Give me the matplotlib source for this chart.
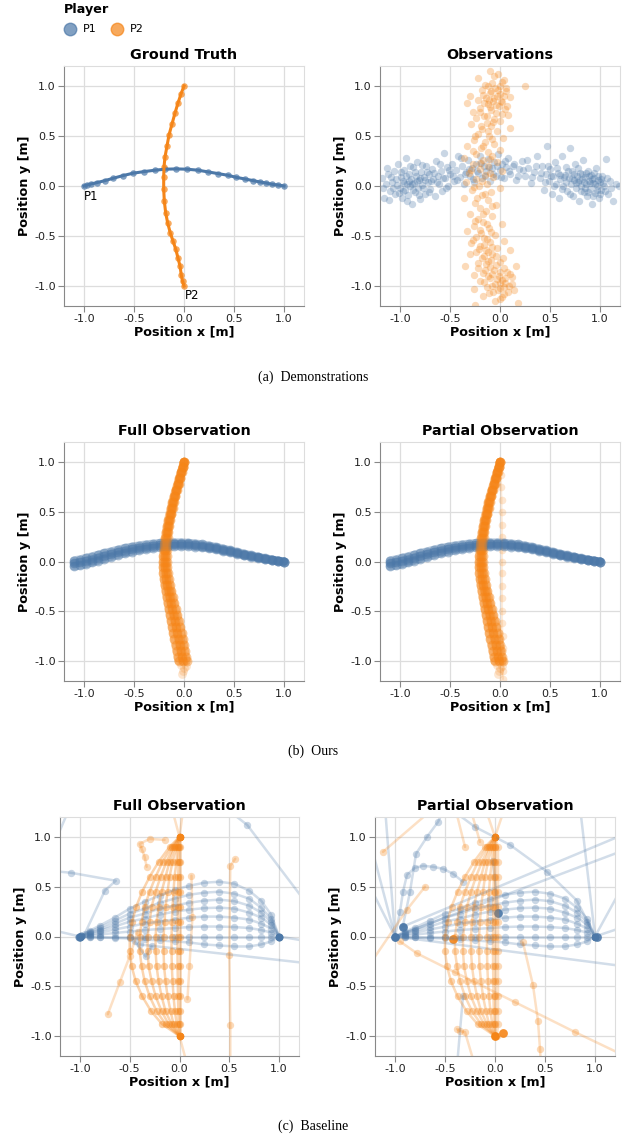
import matplotlib
matplotlib.use("Agg")
import matplotlib.pyplot as plt
from matplotlib.lines import Line2D

plt.rcParams['font.family'] = 'DejaVu Sans'
plt.rcParams['axes.unicode_minus'] = False

C1 = '#4c78a8'
C2 = '#f58518'

# ---- (a) ground truth ----
gt_p1_x = [-1.0, -0.97, -0.93, -0.87, -0.79, -0.71, -0.61, -0.51, -0.4, -0.29, -0.19, -0.08, 0.03,
           0.14, 0.24, 0.34, 0.44, 0.52, 0.61, 0.69, 0.76, 0.82, 0.88, 0.94, 1.0]
gt_p1_y = [0.0, 0.01, 0.02, 0.034, 0.054, 0.077, 0.104, 0.128, 0.144, 0.158, 0.168, 0.171, 0.168,
           0.158, 0.141, 0.124, 0.107, 0.087, 0.07, 0.054, 0.04, 0.03, 0.017, 0.01, 0.0]
gt_p2_x = [0.0, -0.03, -0.06, -0.09, -0.12, -0.15, -0.17, -0.19, -0.2, -0.203, -0.203, -0.197,
           -0.183, -0.163, -0.137, -0.11, -0.083, -0.06, -0.04, -0.027, -0.015, 0.0]
gt_p2_y = [1.0, 0.92, 0.83, 0.73, 0.62, 0.51, 0.4, 0.29, 0.19, 0.09, -0.03, -0.15,
           -0.27, -0.37, -0.47, -0.55, -0.63, -0.72, -0.8, -0.89, -0.95, -1.0]

# ---- (a) noisy observations (x, y) ----
obs_p1 = [(-1.18,0.08),(-1.16,-0.12),(-1.14,0.02),(-1.12,0.12),(-1.1,-0.05),(-1.08,0.04),(-1.06,0.15),
          (-1.05,-0.08),(-1.03,0.01),(-1.02,0.22),(-1.0,-0.02),(-0.99,0.09),(-0.98,-0.12),(-0.97,0.05),
          (-0.96,0.16),(-0.95,-0.04),(-0.94,0.28),(-0.93,0.02),(-0.92,-0.09),(-0.91,0.12),(-0.9,0.0),
          (-0.89,0.07),(-0.88,-0.18),(-0.87,0.19),(-0.86,0.03),(-0.85,-0.06),(-0.84,0.1),(-0.83,0.24),
          (-0.82,-0.02),(-0.81,0.06),(-0.8,-0.13),(-0.79,0.14),(-0.78,0.01),(-0.76,0.09),(-0.75,-0.08),
          (-0.74,0.2),(-0.72,0.04),(-0.71,0.12),(-0.7,-0.03),(-0.68,0.17),(-0.67,0.07),(-0.65,-0.1),
          (-0.64,0.25),(-0.62,0.1),(-0.61,0.02),(-0.59,0.15),(-0.58,-0.05),(-0.56,0.33),(-0.55,0.08),
          (-0.53,0.19),(-0.52,0.0),(-0.5,0.12),(-0.48,0.22),(-0.46,0.05),(-0.44,0.16),(-0.42,0.3),
          (-0.4,0.09),(-0.38,0.2),(-0.36,0.02),(-0.34,0.14),(-0.32,0.26),(-0.3,0.1),(-0.28,0.18),
          (-0.26,0.04),(-0.24,0.22),(-0.22,0.13),(-0.2,0.3),(-0.18,0.08),(-0.16,0.2),(-0.14,0.15),
          (-0.12,0.27),(-0.1,0.05),(-0.08,0.18),(-0.06,0.24),(-0.04,0.1),(-0.02,0.32),(0.0,0.16),
          (0.02,0.22),(0.04,0.08),(0.06,0.19),(0.08,0.28),(0.1,0.12),(0.13,0.2),(0.16,0.06),(0.19,0.17),
          (0.22,0.25),(0.25,0.1),(0.28,0.18),(0.31,0.03),(0.34,0.14),(0.37,0.3),(0.4,0.08),(0.42,0.2),
          (0.44,-0.04),(0.46,0.12),(0.47,0.4),(0.49,0.05),(0.5,0.17),(0.52,-0.08),(0.53,0.1),(0.55,0.24),
          (0.56,0.02),(0.58,0.13),(0.59,-0.12),(0.6,0.07),(0.62,0.3),(0.63,0.0),(0.65,0.11),(0.66,0.19),
          (0.67,-0.05),(0.69,0.08),(0.7,0.38),(0.71,0.02),(0.72,0.15),(0.73,-0.1),(0.74,0.06),(0.75,0.22),
          (0.76,-0.02),(0.77,0.1),(0.78,0.04),(0.79,-0.15),(0.8,0.13),(0.81,0.0),(0.82,0.07),(0.83,0.26),
          (0.84,-0.06),(0.85,0.09),(0.86,0.02),(0.87,-0.1),(0.88,0.15),(0.89,0.05),(0.9,-0.03),(0.91,0.11),
          (0.92,-0.18),(0.93,0.03),(0.94,0.08),(0.95,-0.07),(0.96,0.18),(0.97,0.0),(0.98,0.06),(0.99,-0.12),
          (1.0,0.04),(1.01,-0.04),(1.02,0.1),(1.04,0.0),(1.06,0.27),(1.08,-0.08),(1.1,0.05),(1.13,-0.15),
          (1.16,0.02),(1.19,0.0),
          (-1.17,-0.02),(-1.13,0.18),(-1.11,-0.14),(-1.09,0.09),(-1.07,-0.02),(-1.04,0.07),(-1.01,-0.07),
          (-0.99,0.14),(-0.97,-0.05),(-0.96,0.03),(-0.94,0.1),(-0.93,-0.15),(-0.91,0.05),(-0.9,0.2),
          (-0.88,0.02),(-0.87,-0.04),(-0.85,0.14),(-0.83,0.05),(-0.81,-0.09),(-0.8,0.08),(-0.78,0.21),
          (-0.77,-0.02),(-0.75,0.06),(-0.73,0.14),(-0.71,-0.06),(-0.69,0.05),(-0.66,0.13),(-0.63,0.04),
          (-0.6,0.22),(-0.57,0.08),(-0.54,-0.02),(-0.51,0.16),(-0.47,0.1),(-0.43,0.06),(-0.39,0.28),
          (-0.35,0.12),(-0.31,0.17),(-0.27,0.07),(-0.23,0.15),(-0.19,0.23),(-0.15,0.1),(-0.11,0.19),
          (-0.07,0.12),(-0.03,0.2),(0.01,0.09),(0.05,0.25),(0.09,0.15),(0.14,0.22),(0.18,0.1),(0.23,0.16),
          (0.27,0.26),(0.32,0.09),(0.36,0.2),(0.41,0.13),(0.45,0.04),(0.48,0.2),(0.51,0.1),(0.54,0.0),
          (0.57,0.18),(0.6,0.11),(0.62,-0.03),(0.64,0.09),(0.66,0.04),(0.68,0.15),(0.7,-0.08),(0.72,0.08),
          (0.74,0.12),(0.76,0.03),(0.78,0.18),(0.79,0.06),(0.81,-0.05),(0.82,0.12),(0.84,0.04),(0.85,-0.02),
          (0.86,0.13),(0.88,-0.06),(0.89,0.1),(0.9,0.03),(0.92,0.07),(0.93,-0.1),(0.94,0.13),(0.95,0.02),
          (0.97,-0.04),(0.98,0.1),(1.0,-0.08),(1.01,0.07),(1.03,0.03),(1.05,-0.05),(1.07,0.08),(1.11,-0.02)]
obs_p2 = [(-0.1,1.15),(-0.02,1.12),(-0.22,1.08),(0.04,1.06),(-0.08,1.03),(-0.15,1.01),(0.0,1.0),(0.25,1.0),
          (-0.05,0.98),(-0.18,0.96),(0.06,0.95),(-0.1,0.93),(-0.3,0.9),(-0.03,0.9),(0.1,0.89),(-0.14,0.88),
          (-0.22,0.86),(-0.07,0.85),(0.02,0.84),(-0.33,0.83),(-0.12,0.82),(-0.01,0.8),(-0.2,0.78),(0.05,0.77),
          (-0.09,0.76),(-0.27,0.74),(-0.04,0.73),(0.08,0.71),(-0.16,0.7),(-0.24,0.68),(-0.06,0.67),(0.0,0.65),
          (-0.13,0.63),(-0.29,0.62),(-0.09,0.6),(0.1,0.58),(-0.18,0.57),(-0.03,0.55),(-0.22,0.52),(-0.11,0.5),
          (0.03,0.48),(-0.26,0.46),(-0.15,0.44),(-0.06,0.42),(-0.33,0.4),(-0.19,0.38),(0.0,0.36),(-0.12,0.34),
          (-0.24,0.32),(-0.08,0.3),(-0.36,0.28),(-0.17,0.26),(-0.03,0.24),(-0.27,0.22),(-0.12,0.2),(-0.2,0.17),
          (0.02,0.15),(-0.31,0.13),(-0.15,0.11),(-0.07,0.09),(-0.24,0.07),(-0.34,0.04),(-0.13,0.02),(-0.21,0.0),
          (0.0,-0.02),(-0.28,-0.04),(-0.09,-0.06),(-0.18,-0.09),(-0.36,-0.12),(-0.12,-0.14),(-0.25,-0.17),
          (-0.04,-0.19),(-0.2,-0.22),(-0.14,-0.25),(-0.3,-0.28),(-0.08,-0.3),(-0.22,-0.33),(-0.17,-0.36),
          (0.02,-0.38),(-0.26,-0.4),(-0.11,-0.42),(-0.33,-0.45),(-0.19,-0.47),(-0.05,-0.49),(-0.24,-0.51),
          (-0.13,-0.53),(0.04,-0.55),(-0.29,-0.57),(-0.16,-0.59),(-0.08,-0.61),(-0.21,-0.63),(0.1,-0.64),
          (-0.12,-0.66),(-0.3,-0.68),(-0.04,-0.7),(-0.18,-0.72),(-0.09,-0.74),(-0.35,-0.8),(0.0,-0.76),
          (-0.14,-0.78),(0.16,-0.8),(-0.22,-0.82),(-0.06,-0.84),(0.07,-0.86),(-0.17,-0.87),(-0.26,-0.89),
          (-0.01,-0.9),(0.12,-0.91),(-0.1,-0.92),(0.02,-0.94),(-0.2,-0.95),(0.05,-0.97),(-0.05,-0.98),
          (0.09,-1.0),(-0.13,-1.01),(0.0,-1.02),(-0.26,-1.03),(0.14,-1.04),(-0.07,-1.06),(0.04,-1.08),
          (-0.17,-1.1),(0.0,-1.13),(0.18,-1.17),(-0.25,-1.19),
          (-0.06,1.1),(0.02,1.04),(-0.12,1.0),(0.06,0.98),(-0.02,0.96),(-0.09,0.95),(0.0,0.92),(-0.17,0.91),
          (0.04,0.9),(-0.06,0.88),(-0.11,0.86),(0.01,0.85),(-0.16,0.83),(-0.04,0.81),(0.07,0.8),(-0.1,0.79),
          (-0.2,0.74),(0.02,0.72),(-0.13,0.7),(-0.07,0.64),(-0.19,0.6),(-0.12,0.55),(-0.25,0.5),(-0.08,0.47),
          (-0.17,0.4),(-0.27,0.35),(-0.1,0.27),(-0.2,0.23),(-0.29,0.16),(-0.1,0.13),(-0.18,0.05),(-0.26,-0.01),
          (-0.15,-0.08),(-0.23,-0.12),(-0.08,-0.2),(-0.17,-0.28),(-0.25,-0.35),(-0.13,-0.38),(-0.2,-0.44),
          (-0.09,-0.46),(-0.16,-0.52),(-0.27,-0.54),(-0.1,-0.56),(-0.2,-0.6),(-0.03,-0.62),(-0.14,-0.64),
          (-0.24,-0.66),(-0.08,-0.68),(-0.16,-0.7),(0.03,-0.72),(-0.12,-0.75),(-0.22,-0.77),(-0.04,-0.79),
          (-0.1,-0.81),(0.04,-0.82),(-0.15,-0.84),(0.0,-0.86),(-0.08,-0.88),(0.1,-0.88),(-0.12,-0.9),
          (0.05,-0.92),(-0.03,-0.93),(-0.16,-0.96),(0.0,-0.97),(0.12,-0.98),(-0.08,-1.0),(0.04,-1.01),
          (-0.02,-1.04),(0.08,-1.06),(-0.11,-1.07),(0.02,-1.11),(-0.05,-1.15)]

# ---- (b) ours: predicted trajectory samples ----
ours_p1_x = [-1.1, -1.04, -0.98, -0.92, -0.86, -0.8, -0.73, -0.66, -0.59, -0.52, -0.45, -0.38, -0.31, -0.24,
             -0.17, -0.1, -0.03, 0.04, 0.11, 0.18, 0.25, 0.32, 0.39, 0.46, 0.53, 0.6, 0.67, 0.74, 0.81,
             0.88, 0.94, 1.0]
ours_p1_y_hi = [0.01, 0.02, 0.035, 0.05, 0.066, 0.083, 0.1, 0.118, 0.134, 0.148, 0.16, 0.17, 0.178, 0.184,
                0.188, 0.19, 0.19, 0.187, 0.18, 0.171, 0.159, 0.145, 0.129, 0.112, 0.095, 0.078, 0.062,
                0.047, 0.032, 0.019, 0.008, 0.0]
ours_p1_y_mid = [-0.02, -0.01, 0.005, 0.02, 0.037, 0.055, 0.073, 0.092, 0.109, 0.124, 0.137, 0.148, 0.157,
                 0.164, 0.169, 0.172, 0.173, 0.171, 0.165, 0.157, 0.146, 0.133, 0.118, 0.102, 0.086, 0.07,
                 0.055, 0.041, 0.028, 0.016, 0.007, 0.0]
ours_p1_y_lo = [-0.05, -0.04, -0.025, -0.01, 0.008, 0.027, 0.046, 0.066, 0.084, 0.1, 0.114, 0.126, 0.136,
                0.144, 0.15, 0.154, 0.156, 0.155, 0.15, 0.143, 0.133, 0.121, 0.107, 0.092, 0.077, 0.062,
                0.048, 0.035, 0.024, 0.013, 0.005, 0.0]
ours_p2_y = [1.0, 0.95, 0.9, 0.84, 0.78, 0.72, 0.66, 0.6, 0.54, 0.48, 0.42, 0.36, 0.3, 0.24, 0.18, 0.12, 0.06,
             0.0, -0.06, -0.12, -0.18, -0.24, -0.3, -0.36, -0.42, -0.48, -0.54, -0.6, -0.66, -0.72, -0.78,
             -0.84, -0.9, -0.96, -1.0]
ours_p2_x_left = [0.0, -0.014, -0.029, -0.047, -0.065, -0.083, -0.1, -0.116, -0.13, -0.144, -0.157, -0.169,
                  -0.18, -0.189, -0.197, -0.203, -0.207, -0.21, -0.21, -0.206, -0.2, -0.192, -0.183, -0.173,
                  -0.162, -0.151, -0.14, -0.129, -0.118, -0.107, -0.096, -0.085, -0.074, -0.062, -0.055]
ours_p2_x_mid = [0.0, -0.012, -0.026, -0.043, -0.06, -0.077, -0.093, -0.108, -0.122, -0.135, -0.147, -0.158,
                 -0.168, -0.176, -0.183, -0.188, -0.191, -0.192, -0.19, -0.184, -0.176, -0.166, -0.155,
                 -0.143, -0.13, -0.117, -0.104, -0.091, -0.078, -0.066, -0.054, -0.042, -0.03, -0.018, -0.01]
ours_p2_x_right = [0.0, -0.01, -0.023, -0.039, -0.055, -0.071, -0.086, -0.1, -0.114, -0.126, -0.137, -0.147,
                   -0.156, -0.163, -0.169, -0.173, -0.175, -0.174, -0.17, -0.162, -0.152, -0.14, -0.127,
                   -0.113, -0.098, -0.083, -0.068, -0.053, -0.038, -0.025, -0.013, -0.002, 0.008, 0.018, 0.025]
ours_p2_tail_x = [-0.03, 0.0, -0.01, 0.02, -0.02]
ours_p2_tail_y = [-1.04, -1.07, -1.1, -1.05, -1.13]
part_p2_line_x = [0.0, 0.01, 0.01, 0.015, 0.015, 0.02, 0.02, 0.02, 0.02, 0.02, 0.02, 0.02, 0.02, 0.02,
                  0.025, 0.025, 0.03, 0.03, 0.03]
part_p2_line_y = [1.0, 0.87, 0.75, 0.62, 0.5, 0.37, 0.25, 0.12, 0.0, -0.12, -0.25, -0.37, -0.5, -0.62,
                  -0.75, -0.87, -1.0, -1.1, -1.18]

# ---- (c) baseline samples ----
base_p1_x = [-1.0, -0.9, -0.8, -0.65, -0.5, -0.35, -0.2, -0.05, 0.1, 0.25, 0.4, 0.55, 0.7, 0.82, 0.92, 1.0]
base_p1_arcs = {
    'a55': [0, 0.06, 0.11, 0.19, 0.28, 0.35, 0.41, 0.47, 0.51, 0.54, 0.55, 0.53, 0.46, 0.36, 0.22, 0],
    'a45': [0, 0.05, 0.09, 0.16, 0.23, 0.28, 0.34, 0.38, 0.42, 0.44, 0.45, 0.43, 0.38, 0.29, 0.18, 0],
    'a37': [0, 0.04, 0.07, 0.13, 0.19, 0.23, 0.28, 0.31, 0.34, 0.36, 0.37, 0.355, 0.31, 0.24, 0.15, 0],
    'a29': [0, 0.03, 0.06, 0.1, 0.15, 0.18, 0.22, 0.25, 0.27, 0.285, 0.29, 0.28, 0.24, 0.19, 0.12, 0],
    'a20': [0, 0.02, 0.04, 0.07, 0.1, 0.13, 0.15, 0.17, 0.19, 0.2, 0.2, 0.19, 0.17, 0.13, 0.08, 0],
    'a10': [0, 0.01, 0.02, 0.035, 0.05, 0.065, 0.075, 0.085, 0.095, 0.1, 0.1, 0.095, 0.085, 0.065, 0.04, 0],
    'a00': [0, 0, 0, 0, 0, 0, 0, 0, 0, 0, 0, 0, 0, 0, 0, 0],
    'dip': [0, -0.005, -0.01, -0.015, -0.02, -0.03, -0.04, -0.05, -0.06, -0.08, -0.09, -0.1, -0.1, -0.08, -0.05, 0],
}
base_p2_y = [1.0, 0.9, 0.75, 0.6, 0.45, 0.3, 0.15, 0.0, -0.15, -0.3, -0.45, -0.6, -0.75, -0.88, -1.0]
base_p2_arcs = {
    'b50': [0, -0.1, -0.21, -0.3, -0.375, -0.435, -0.475, -0.5, -0.5, -0.48, -0.44, -0.375, -0.285, -0.175, 0],
    'b40': [0, -0.08, -0.17, -0.24, -0.3, -0.35, -0.38, -0.4, -0.4, -0.38, -0.35, -0.3, -0.23, -0.14, 0],
    'b32': [0, -0.06, -0.13, -0.19, -0.24, -0.28, -0.3, -0.32, -0.32, -0.31, -0.28, -0.24, -0.18, -0.11, 0],
    'b24': [0, -0.05, -0.1, -0.14, -0.18, -0.21, -0.23, -0.24, -0.24, -0.23, -0.21, -0.18, -0.14, -0.08, 0],
    'b16': [0, -0.03, -0.07, -0.1, -0.12, -0.14, -0.15, -0.16, -0.16, -0.155, -0.14, -0.12, -0.09, -0.06, 0],
    'b08': [0, -0.02, -0.03, -0.05, -0.06, -0.07, -0.076, -0.08, -0.08, -0.077, -0.07, -0.06, -0.046, -0.028, 0],
    'b02': [0, -0.005, -0.01, -0.012, -0.015, -0.017, -0.018, -0.02, -0.02, -0.019, -0.017, -0.015, -0.012, -0.008, 0],
    'b00': [0, 0, 0, 0, 0, 0, 0, 0, 0, 0, 0, 0, 0, 0, 0],
}
full_p1_strays = [([-1.3, -1.09, -0.64, -0.75, -0.95], [0.66, 0.64, 0.56, 0.46, 0.03]),
                  ([-1.25, -1.1], [0.95, 1.3]),
                  ([0.45, 0.68, 1.3], [1.3, 1.12, 0.3]),
                  ([-1.3, -1.0], [0.07, 0.0]),
                  ([1.0, 1.3], [0.0, -0.05]),
                  ([-0.4, 1.3], [-0.08, -0.27]),
                  ([-0.45, -0.34, -0.28], [-0.05, -0.2, -0.1])]
full_p2_strays = [([-0.15, -0.3, -0.4, -0.38, -0.35, -0.33], [0.97, 0.98, 0.93, 0.88, 0.8, 0.7]),
                  ([-0.72, -0.6, -0.5, -0.42], [-0.78, -0.46, -0.2, 0.05]),
                  ([0.51, 0.51, 0.5, 0.51, 0.56], [-1.25, -0.89, -0.19, 0.71, 0.78]),
                  ([0.12, 0.13, 0.1, 0.08], [0.61, 0.2, -0.3, -0.63]),
                  ([0.0, -0.08], [1.0, 1.3]),
                  ([0.0, 0.04], [1.0, 1.3]),
                  ([0.0, 0.08], [-1.0, -1.3])]
part_p1_hump_x = [-1.0, -0.95, -0.92, -0.88, -0.8, -0.72, -0.62, -0.52, -0.42, -0.32]
part_p1_hump_y = [0.0, 0.25, 0.45, 0.62, 0.69, 0.71, 0.7, 0.68, 0.63, 0.55]
part_p1_strays = [([-1.0, 1.3], [0.0, 0.87]),
                  ([-0.92, 1.3], [0.1, 1.03]),
                  ([-1.0, 1.3], [0.0, -0.3]),
                  ([-1.1, -1.0], [1.3, 0.0]),
                  ([-1.3, -1.0], [1.15, 0.0]),
                  ([-1.3, -1.0], [0.6, 0.0]),
                  ([0.85, 1.0], [1.3, 0.0]),
                  ([1.0, 1.3], [0.0, 0.1]),
                  ([1.0, 1.3], [0.0, 0.55]),
                  ([-0.4, -0.2, 0.15, 0.52, 0.82, 1.0], [1.25, 1.1, 0.92, 0.65, 0.36, 0.0]),
                  ([-0.92, -0.85, -0.79, -0.68, -0.57, -0.5], [0.11, 0.45, 0.83, 1.0, 1.15, 1.3]),
                  ([-0.38, -0.32], [-1.3, -0.6]),
                  ([-0.02, 0.03], [0.76, 0.24])]
part_p2_strays = [([-1.12, -0.6], [0.85, 1.3]),
                  ([-1.3, -0.88, -0.7], [-0.35, 0.27, 0.5]),
                  ([-0.95, -0.78, -0.4, 0.2, 0.8, 1.3], [-0.05, -0.17, -0.36, -0.66, -0.96, -1.2]),
                  ([0.28, 0.38, 0.43, 0.45, 0.46], [-0.06, -0.49, -0.85, -1.13, -1.3]),
                  ([-0.38, -0.35, -0.3, -0.2], [-0.93, -0.95, -0.96, -1.3]),
                  ([-0.4, -0.3], [1.3, 0.9]),
                  ([0.0, -0.1], [1.0, 1.3]),
                  ([0.0, 0.1], [1.0, 1.3]),
                  ([-0.15, -0.25], [0.95, 1.3]),
                  ([0.0, 0.03, 0.03, 0.03, 0.03, 0.03, 0.03, 0.03, 0.03, 0.03, 0.03, 0.03, 0.03, 0.03, 0.02],
                   [1.0, 0.9, 0.75, 0.6, 0.45, 0.3, 0.15, 0.0, -0.15, -0.3, -0.45, -0.6, -0.75, -0.88, -1.0])]
part_p1_dots = [(-1.0, 0.0), (1.02, 0.0), (0.03, 0.24), (-0.92, 0.1)]
part_p2_dots = [(-0.42, -0.03), (0.08, -0.97), (0.0, -1.0)]

W, H = 627, 1142
fig = plt.figure(figsize=(W / 100, H / 100), dpi=100)

def make_ax(left, top, w, h, title):
    ax = fig.add_axes([left / W, 1 - (top + h) / H, w / W, h / H])
    ax.set_xlim(-1.2, 1.2)
    ax.set_ylim(-1.2, 1.2)
    ticks = [-1.0, -0.5, 0.0, 0.5, 1.0]
    ax.set_xticks(ticks)
    ax.set_yticks(ticks)
    ax.set_xticklabels(['%.1f' % t for t in ticks])
    ax.set_yticklabels(['%.1f' % t for t in ticks])
    ax.grid(True, color='#dddddd', lw=0.9)
    ax.set_axisbelow(True)
    for s in ['top', 'right']:
        ax.spines[s].set_color('#dddddd')
    for s in ['left', 'bottom']:
        ax.spines[s].set_color('#888888')
    ax.tick_params(length=4, color='#888888', labelsize=8, labelcolor='#222222', pad=2)
    ax.set_title(title, fontsize=10.3, fontweight='bold', pad=5)
    ax.set_xlabel('Position x [m]', fontsize=9.2, fontweight='bold', labelpad=1)
    ax.set_ylabel('Position y [m]', fontsize=9.2, fontweight='bold', labelpad=2)
    return ax

def traj(ax, xs, ys, c, ms=28, a=0.3, lw=1.8, la=0.25):
    ax.plot(xs, ys, color=c, lw=lw, alpha=la, solid_capstyle='round')
    ax.scatter(xs, ys, s=ms, color=c, alpha=a, linewidths=0)

# (a) ground truth
ax = make_ax(64, 66, 240, 240, 'Ground Truth')
ax.plot(gt_p1_x, gt_p1_y, color=C1, lw=2.2)
ax.scatter(gt_p1_x, gt_p1_y, s=22, color=C1, alpha=0.7, linewidths=0)
ax.plot(gt_p2_x, gt_p2_y, color=C2, lw=2.2)
ax.scatter(gt_p2_x, gt_p2_y, s=22, color=C2, alpha=0.7, linewidths=0)
ax.text(-1.0, -0.04, 'P1', fontsize=8.5, va='top', ha='left')
ax.text(0.01, -1.03, 'P2', fontsize=8.5, va='top', ha='left')

ax = make_ax(380, 66, 240, 240, 'Observations')
ax.scatter([p[0] for p in obs_p1], [p[1] for p in obs_p1], s=28, color=C1, alpha=0.3, linewidths=0)
ax.scatter([p[0] for p in obs_p2], [p[1] for p in obs_p2], s=28, color=C2, alpha=0.3, linewidths=0)

# (b) ours
for left, title in [(64, 'Full Observation'), (380, 'Partial Observation')]:
    ax = make_ax(left, 442, 240, 239, title)
    if left == 380:
        traj(ax, part_p2_line_x, part_p2_line_y, C2, ms=30, a=0.2, lw=1.5, la=0.15)
    for ys in [ours_p1_y_hi, ours_p1_y_mid, ours_p1_y_lo]:
        traj(ax, ours_p1_x, ys, C1, ms=50, a=0.45, lw=6, la=0.4)
    for xs in [ours_p2_x_left, ours_p2_x_mid, ours_p2_x_right]:
        traj(ax, xs, ours_p2_y, C2, ms=50, a=0.45, lw=6, la=0.4)
    ax.scatter(ours_p2_tail_x, ours_p2_tail_y, s=40, color=C2, alpha=0.2, linewidths=0)

# (c) baseline
ax = make_ax(60, 817, 239, 239, 'Full Observation')
for k in base_p1_arcs:
    traj(ax, base_p1_x, base_p1_arcs[k], C1)
for xs, ys in full_p1_strays:
    traj(ax, xs, ys, C1)
for k in base_p2_arcs:
    traj(ax, base_p2_arcs[k], base_p2_y, C2, a=0.4, la=0.35)
for xs, ys in full_p2_strays:
    traj(ax, xs, ys, C2)
ax.scatter([-1.0, -0.99, -1.01, 1.0], [0.0, 0.01, -0.01, 0.0], s=34, color=C1, alpha=0.8, linewidths=0)

ax = make_ax(375, 817, 240, 239, 'Partial Observation')
for k in ['a45', 'a37', 'a29', 'a20', 'a10', 'a00', 'dip']:
    traj(ax, base_p1_x, base_p1_arcs[k], C1)
traj(ax, part_p1_hump_x, part_p1_hump_y, C1)
for xs, ys in part_p1_strays:
    traj(ax, xs, ys, C1)
for k in base_p2_arcs:
    traj(ax, base_p2_arcs[k], base_p2_y, C2, a=0.35, la=0.3)
for xs, ys in part_p2_strays:
    traj(ax, xs, ys, C2)
ax.scatter([p[0] for p in part_p1_dots], [p[1] for p in part_p1_dots], s=40, color=C1, alpha=0.9, linewidths=0)
ax.scatter([p[0] for p in part_p2_dots], [p[1] for p in part_p2_dots], s=40, color=C2, alpha=0.9, linewidths=0)

# legend
fig.text(64 / W, 1 - 10 / H, 'Player', fontsize=9.2, fontweight='bold', va='center', ha='left')
for cx, c, lab in [(70, C1, 'P1'), (117, C2, 'P2')]:
    fig.add_artist(Line2D([cx / W], [1 - 29 / H], marker='o', markersize=9, color=c, alpha=0.7,
                          markeredgecolor=c, transform=fig.transFigure))
    fig.text((cx + 13) / W, 1 - 29 / H, lab, fontsize=8, va='center', ha='left')

# captions
for y, cap in [(377, '(a)  Demonstrations'), (751, '(b)  Ours'), (1126, '(c)  Baseline')]:
    fig.text(0.5, 1 - y / H, cap, fontsize=10, family='Liberation Serif', ha='center', va='center')

fig.savefig('out.png', dpi=100)
